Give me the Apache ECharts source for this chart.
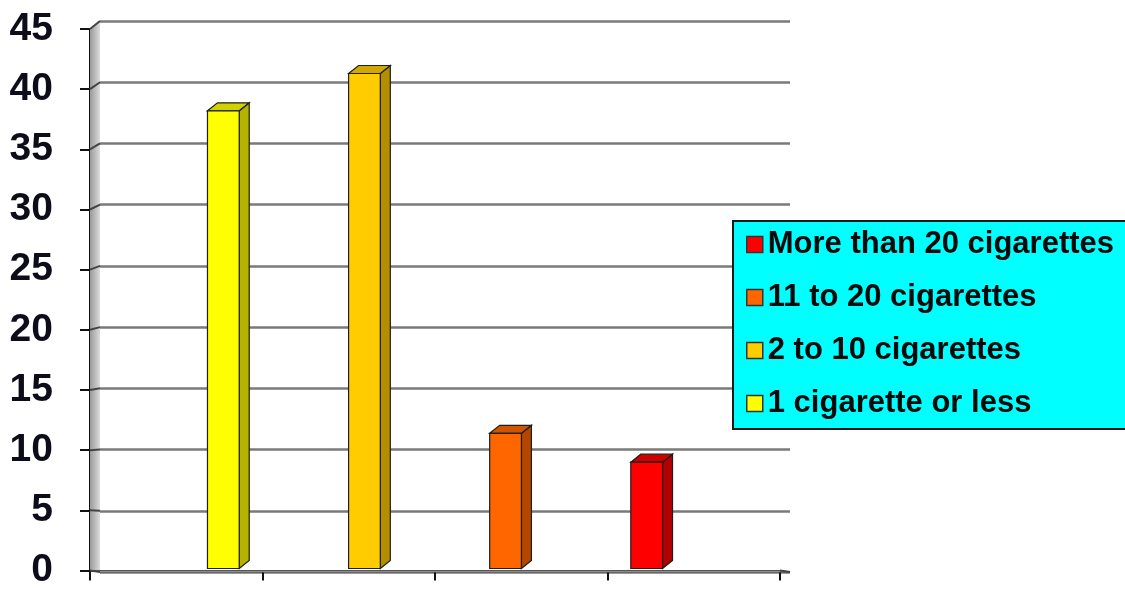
<!DOCTYPE html>
<html>
<head>
<meta charset="utf-8">
<script src="https://cdn.jsdelivr.net/npm/echarts@6/dist/echarts.min.js"></script>
<style>
  html, body { margin: 0; padding: 0; background: #ffffff; }
  #chart { width: 1125px; height: 590px; }
</style>
</head>
<body>
<div id="chart"></div>
<script>
// Share of smokers by number of cigarettes per day
const seriesNames  = ['1 cigarette or less', '2 to 10 cigarettes', '11 to 20 cigarettes', 'More than 20 cigarettes'];
const seriesValues = [38.2, 41.3, 11.4, 9.0];
const seriesColors = ['#FFFF00', '#FFCC00', '#FF6600', '#FF0000'];
const legendOrder  = ['More than 20 cigarettes', '11 to 20 cigarettes', '2 to 10 cigarettes', '1 cigarette or less'];
const yMin = 0, yMax = 45, yStep = 5;
const floorTicks = ['', '', '', ''];

// Layout of the pseudo-3D box: front plane and the back wall behind it
const FRONT = { left: 90, right: 780, top: 29, bottom: 580 };
const DEPTH = { dx: 10, dy: -8 };
const W = 1125, H = 590;

function shade(hex, f) {
  const n = parseInt(hex.slice(1), 16);
  const r = Math.round(((n >> 16) & 255) * f);
  const g = Math.round(((n >> 8) & 255) * f);
  const b = Math.round((n & 255) * f);
  return 'rgb(' + r + ',' + g + ',' + b + ')';
}

// One 3D column per series, clustered inside the single category band
function renderColumn(params, api) {
  const i = params.seriesIndex;
  const n = seriesNames.length;
  const band = api.size([1, 0])[0];
  const center = api.coord([0, 0])[0];
  const step = band * 0.2045;
  const w = band * 0.046;
  const x0 = center + (i - (n - 1) / 2) * step - w / 2;
  const yTop = api.coord([0, api.value(1)])[1];
  const yBase = api.coord([0, 0])[1] - 2;
  const dx = DEPTH.dx, dy = DEPTH.dy;
  const c = seriesColors[i];
  const edge = { stroke: '#1e1e1e', lineWidth: 1.2 };
  return {
    type: 'group',
    children: [
      { type: 'polygon',
        shape: { points: [[x0 + w, yBase], [x0 + w + dx, yBase + dy], [x0 + w + dx, yTop + dy], [x0 + w, yTop]] },
        style: Object.assign({ fill: shade(c, 0.7) }, edge) },
      { type: 'polygon',
        shape: { points: [[x0, yTop], [x0 + dx, yTop + dy], [x0 + w + dx, yTop + dy], [x0 + w, yTop]] },
        style: Object.assign({ fill: shade(c, 0.82) }, edge) },
      { type: 'rect',
        shape: { x: x0, y: yTop, width: w, height: yBase - yTop },
        style: Object.assign({ fill: c }, edge) }
    ]
  };
}

const chart = echarts.init(document.getElementById('chart'), null, { renderer: 'canvas' });

const labelFont = { fontFamily: 'Liberation Sans', fontWeight: 'bold' };

const option = {
  animation: false,
  backgroundColor: '#ffffff',
  grid: [
    { left: FRONT.left, right: W - FRONT.right, top: FRONT.top, bottom: H - FRONT.bottom },
    { left: FRONT.left + DEPTH.dx, right: W - FRONT.right - DEPTH.dx,
      top: FRONT.top + DEPTH.dy, bottom: H - FRONT.bottom - DEPTH.dy }
  ],
  xAxis: [
    { type: 'category', gridIndex: 0, data: [''], show: false },
    { type: 'category', gridIndex: 0, data: floorTicks, position: 'bottom',
      axisLine: { show: true, lineStyle: { color: '#111', width: 2 } },
      axisTick: { show: true, length: 10, lineStyle: { color: '#111', width: 2 } },
      axisLabel: { show: false }, splitLine: { show: false } },
    { type: 'category', gridIndex: 1, data: [''], show: false }
  ],
  yAxis: [
    { type: 'value', gridIndex: 0, min: yMin, max: yMax, interval: yStep,
      axisLine: { show: true, lineStyle: { color: '#111', width: 2 } },
      axisTick: { show: true, length: 10, lineStyle: { color: '#111', width: 2 } },
      axisLabel: Object.assign({ color: '#0d0d1a', fontSize: 39, margin: 37 }, labelFont),
      splitLine: { show: false } },
    { type: 'value', gridIndex: 1, min: yMin, max: yMax, interval: yStep,
      axisLine: { show: false }, axisTick: { show: false }, axisLabel: { show: false },
      splitLine: { show: true, lineStyle: { color: '#7a7a7a', width: 2.5 } } }
  ],
  legend: {
    data: legendOrder,
    orient: 'vertical',
    left: 733, top: 221,
    backgroundColor: '#00FFFF',
    borderColor: '#1a1a1a', borderWidth: 2, borderRadius: 0,
    padding: [8, 20, 10, 13],
    itemWidth: 16, itemHeight: 16, itemGap: 22,
    icon: 'rect',
    itemStyle: { borderColor: '#333', borderWidth: 1.5 },
    textStyle: Object.assign({ color: '#0a0a0a', fontSize: 31 }, labelFont)
  },
  series: seriesNames.map((name, i) => ({
    name: name,
    type: 'custom',
    xAxisIndex: 0, yAxisIndex: 0,
    renderItem: renderColumn,
    itemStyle: { color: seriesColors[i] },
    data: [[0, seriesValues[i]]],
    z: 5
  }))
};

chart.setOption(option);

// Side wall, floor and the short depth connectors between front ticks and back gridlines
const backL = FRONT.left + DEPTH.dx, backR = FRONT.right + DEPTH.dx;
const yf = v => chart.convertToPixel({ yAxisIndex: 0 }, v);
const yb = v => chart.convertToPixel({ yAxisIndex: 1 }, v);
const deco = [];
deco.push({
  type: 'polygon', z: 1, silent: true,
  shape: { points: [[FRONT.left, yf(yMin)], [FRONT.left, yf(yMax)], [backL, yb(yMax)], [backL, yb(yMin)]] },
  style: { fill: new echarts.graphic.LinearGradient(0, 0, 1, 0, [
    { offset: 0, color: '#9a9a9a' }, { offset: 1, color: '#dcdcdc' }]) }
});
deco.push({
  type: 'polygon', z: 1, silent: true,
  shape: { points: [[FRONT.left, yf(yMin)], [backL, yb(yMin)], [backR, yb(yMin)], [FRONT.right, yf(yMin)]] },
  style: { fill: new echarts.graphic.LinearGradient(0, 0, 0, 1, [
    { offset: 0, color: '#a8a8a8' }, { offset: 1, color: '#d6d6d6' }]),
    stroke: '#555', lineWidth: 1 }
});
for (let v = yMin; v <= yMax; v += yStep) {
  deco.push({
    type: 'line', z: 1, silent: true,
    shape: { x1: FRONT.left, y1: yf(v), x2: backL, y2: yb(v) },
    style: { stroke: '#444', lineWidth: 2 }
  });
}
deco.push({
  type: 'line', z: 1, silent: true,
  shape: { x1: FRONT.right, y1: yf(yMin), x2: backR, y2: yb(yMin) },
  style: { stroke: '#444', lineWidth: 2 }
});
chart.setOption({ graphic: deco });
</script>
</body>
</html>
